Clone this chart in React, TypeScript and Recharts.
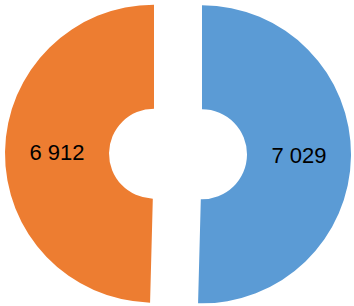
import React from "react";
import { PieChart, Pie, Cell } from "recharts";

const categories = ["Series A", "Series B"];
const values = [7029, 6912];
const colors = ["#5B9BD5", "#ED7D31"];

const W = 354;
const H = 306;
const CX = 178;
const CY = 154;
const EXPLODE = 24;
const RAD = Math.PI / 180;

const total = values.reduce((a, b) => a + b, 0);

// angles for each slice, clockwise from 12 o'clock like Excel
const slices = (() => {
  let start = 90;
  return values.map((v, i) => {
    const end = start - (360 * v) / total;
    const mid = (start + end) / 2;
    const s = {
      name: categories[i],
      value: v,
      color: colors[i],
      start,
      end,
      cx: CX + EXPLODE * Math.cos(mid * RAD),
      cy: CY - EXPLODE * Math.sin(mid * RAD),
    };
    start = end;
    return s;
  });
})();

const fmt = (v: number) => String(v).replace(/\B(?=(\d{3})+(?!\d))/g, " ");

function renderLabel(props: any) {
  const { cx, cy, midAngle, innerRadius, outerRadius, value } = props;
  const r = (innerRadius + outerRadius) / 2;
  const x = cx + r * Math.cos(-midAngle * RAD);
  const y = cy + r * Math.sin(-midAngle * RAD);
  return (
    <text
      x={x}
      y={y}
      fill="#000"
      textAnchor="middle"
      dominantBaseline="central"
      fontSize={22}
      fontFamily="'Liberation Sans', Arial, sans-serif"
    >
      {fmt(value)}
    </text>
  );
}

export default function App() {
  return (
    <div style={{ position: "absolute", left: 0, top: 0, width: W, height: H, background: "#fff" }}>
      <PieChart width={W} height={H} margin={{ top: 0, right: 0, bottom: 0, left: 0 }}>
        {slices.map((s) => (
          <Pie
            key={s.name}
            data={[{ name: s.name, value: s.value }]}
            dataKey="value"
            cx={s.cx}
            cy={s.cy}
            startAngle={s.start}
            endAngle={s.end}
            innerRadius={45}
            outerRadius={149}
            stroke="none"
            label={renderLabel}
            labelLine={false}
            isAnimationActive={false}
          >
            <Cell fill={s.color} />
          </Pie>
        ))}
      </PieChart>
    </div>
  );
}
